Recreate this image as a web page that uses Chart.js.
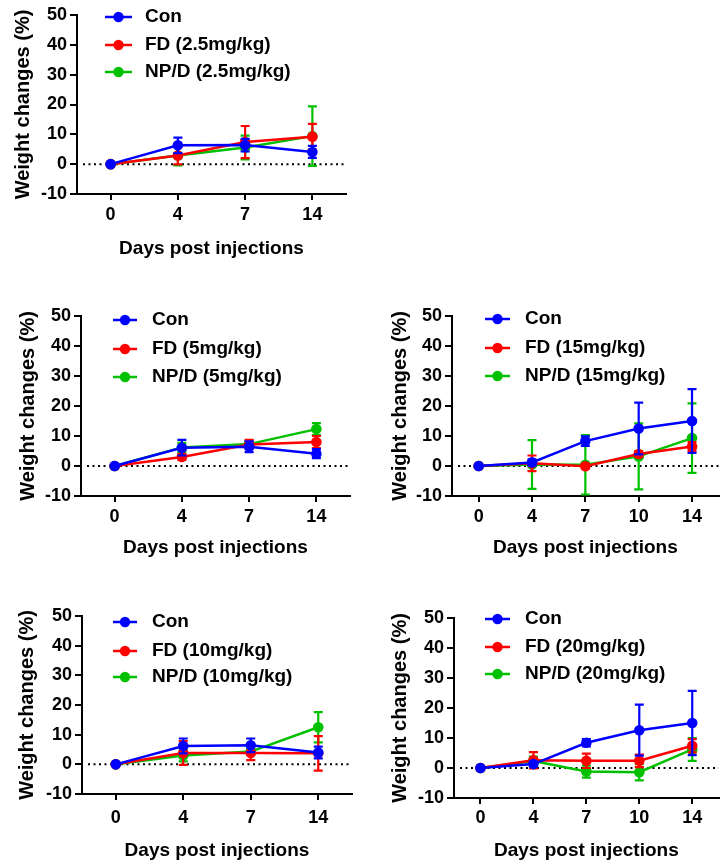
<!DOCTYPE html>
<html>
<head>
<meta charset="utf-8">
<script src="https://cdn.jsdelivr.net/npm/chart.js@4.4.1/dist/chart.umd.min.js"></script>
<style>
  body { margin: 0; background: #fff; width: 724px; height: 867px; position: relative; overflow: hidden; }
  canvas { position: absolute; }
</style>
</head>
<body>
<canvas id="p25"></canvas>
<canvas id="p5"></canvas>
<canvas id="p15"></canvas>
<canvas id="p10"></canvas>
<canvas id="p20"></canvas>
<script>
// x categories (days)
const days4 = ['0', '4', '7', '14'];
const days5 = ['0', '4', '7', '10', '14'];

// 2.5 mg/kg
const con25 = [0, 6.3, 6.4, 4.1];
const con25Err = [0, 2.6, 2.1, 2.0];
const fd25 = [0, 2.9, 7.4, 9.2];
const fd25Err = [0, 3.0, 5.4, 4.3];
const np25 = [0, 2.9, 5.6, 9.4];
const np25Err = [0, 3.3, 4.0, 10.0];

// 5 mg/kg
const con5 = [0, 6.1, 6.4, 4.1];
const con5Err = [0, 2.6, 1.8, 1.5];
const fd5 = [0, 3.0, 7.2, 8.0];
const fd5Err = [0, 1.0, 1.5, 2.0];
const np5 = [0, 6.2, 7.3, 12.3];
const np5Err = [0, 1.5, 1.2, 2.0];

// 15 mg/kg
const con15 = [0, 1.2, 8.3, 12.5, 15.0];
const con15Err = [0, 1.0, 1.6, 8.6, 10.6];
const fd15 = [0, 0.9, -0.1, 4.0, 6.5];
const fd15Err = [0, 2.6, 0.8, 1.0, 1.5];
const np15 = [0, 0.5, 0.4, 3.2, 9.3];
const np15Err = [0, 8.1, 9.9, 11.0, 11.6];

// 10 mg/kg
const con10 = [0, 6.2, 6.4, 4.0];
const con10Err = [0, 2.5, 2.3, 2.0];
const fd10 = [0, 3.8, 3.8, 3.7];
const fd10Err = [0, 4.0, 2.4, 5.8];
const np10 = [0, 3.0, 4.3, 12.5];
const np10Err = [0, 2.0, 1.0, 5.1];

// 20 mg/kg
const con20 = [0, 1.3, 8.4, 12.6, 15.0];
const con20Err = [0, 0.8, 1.2, 8.5, 10.7];
const fd20 = [0, 2.6, 2.4, 2.4, 7.4];
const fd20Err = [0, 2.7, 2.4, 2.1, 2.2];
const np20 = [0, 2.3, -1.2, -1.4, 6.2];
const np20Err = [0, 1.5, 2.0, 2.7, 3.8];

const yTicks = [-10, 0, 10, 20, 30, 40, 50];

const FONT = "'Liberation Sans', Arial, Helvetica, sans-serif";
const COLORS = ['#0000ff', '#ff0000', '#00c000'];

// zero line, error bars and the in-plot legend
const panelDecor = {
  id: 'panelDecor',
  beforeDatasetsDraw(chart) {
    const { ctx, chartArea, scales: { y } } = chart;
    const y0 = y.getPixelForValue(0);
    ctx.save();
    ctx.strokeStyle = '#000';
    ctx.lineWidth = 2;
    ctx.setLineDash([2, 3.5]);
    ctx.beginPath();
    ctx.moveTo(chartArea.left + 6, y0);
    ctx.lineTo(chartArea.right, y0);
    ctx.stroke();
    ctx.restore();
  },
  beforeDatasetDraw(chart, args) {
    const ds = chart.data.datasets[args.index];
    const { ctx, scales: { x, y } } = chart;
    ctx.save();
    ctx.strokeStyle = ds.borderColor;
    ctx.lineWidth = 2.2;
    ds.data.forEach((v, i) => {
      const e = ds.errors[i];
      if (!e) return;
      const px = x.getPixelForValue(i);
      const top = y.getPixelForValue(v + e);
      const bot = y.getPixelForValue(v - e);
      ctx.beginPath();
      ctx.moveTo(px, top); ctx.lineTo(px, bot);
      ctx.moveTo(px - 4.5, top); ctx.lineTo(px + 4.5, top);
      ctx.moveTo(px - 4.5, bot); ctx.lineTo(px + 4.5, bot);
      ctx.stroke();
    });
    ctx.restore();
  },
  afterDraw(chart, args, opts) {
    const { ctx, chartArea } = chart;
    const lg = opts.legend;
    ctx.save();
    chart.data.datasets.forEach((ds, i) => {
      const yy = chartArea.top + lg.rows[i];
      const x0 = chartArea.left + lg.x0, x1 = chartArea.left + lg.x1;
      ctx.strokeStyle = ds.borderColor;
      ctx.fillStyle = ds.borderColor;
      ctx.lineWidth = 2.5;
      ctx.beginPath(); ctx.moveTo(x0, yy); ctx.lineTo(x1, yy); ctx.stroke();
      ctx.beginPath(); ctx.arc((x0 + x1) / 2, yy, 5.2, 0, Math.PI * 2); ctx.fill();
      ctx.fillStyle = '#000';
      ctx.font = 'bold 19px ' + FONT;
      ctx.textBaseline = 'middle';
      ctx.fillText(ds.label, chartArea.left + lg.tx, yy);
    });
    ctx.restore();
  }
};

function makePanel(id, lay, labels, dose, series, legend) {
  const canvas = document.getElementById(id);
  const yScaleLeft = lay.yTitleX - (20 * 1.2 / 2 + 4);
  const bottom = Math.round(lay.xTitleY + 19 * 1.2 / 2 + 4);
  canvas.width = lay.cr - lay.cx;
  canvas.height = bottom - lay.cy;
  canvas.style.left = lay.cx + 'px';
  canvas.style.top = lay.cy + 'px';
  const xh = bottom - lay.B;
  const yw = lay.L - yScaleLeft;
  const tickPad = lay.xTickY - lay.B - 6 - 18 * 1.2 / 2;

  const names = ['Con', 'FD (' + dose + ')', 'NP/D (' + dose + ')'];
  const datasets = series.map((s, i) => ({
    label: names[i],
    data: s[0],
    errors: s[1],
    borderColor: COLORS[i],
    backgroundColor: COLORS[i],
    pointBackgroundColor: COLORS[i],
    pointBorderColor: COLORS[i],
    pointBorderWidth: 0,
    pointRadius: 5.3,
    borderWidth: 2.5,
    tension: 0,
    fill: false
  }));

  const axisCommon = {
    grid: { display: true, drawOnChartArea: false, drawTicks: true, color: '#000', lineWidth: 2 },
    border: { display: true, color: '#000', width: 2 }
  };

  return new Chart(canvas.getContext('2d'), {
    type: 'line',
    data: { labels: labels, datasets: datasets },
    plugins: [panelDecor],
    options: {
      responsive: false,
      animation: false,
      devicePixelRatio: 1,
      layout: { padding: { left: yScaleLeft - lay.cx, top: lay.T - lay.cy, right: lay.cr - lay.R, bottom: 0 } },
      plugins: {
        legend: { display: false },
        tooltip: { enabled: false },
        panelDecor: { legend: legend }
      },
      scales: {
        x: {
          type: 'category',
          offset: true,
          ...axisCommon,
          grid: { ...axisCommon.grid, tickLength: 6 },
          ticks: { color: '#000', font: { family: FONT, size: 18, weight: 'bold' }, padding: tickPad, maxRotation: 0, autoSkip: false },
          title: { display: true, text: 'Days post injections', color: '#000', font: { family: FONT, size: 19, weight: 'bold' }, padding: { top: 0, bottom: 4 } },
          afterFit: (s) => { s.height = xh; }
        },
        y: {
          min: yTicks[0],
          max: yTicks[yTicks.length - 1],
          ...axisCommon,
          grid: { ...axisCommon.grid, tickLength: 7 },
          afterBuildTicks: (s) => { s.ticks = yTicks.map(v => ({ value: v })); },
          ticks: { color: '#000', font: { family: FONT, size: 18, weight: 'bold' }, padding: 3 },
          title: { display: true, text: 'Weight changes (%)', color: '#000', font: { family: FONT, size: 20, weight: 'bold' }, padding: { top: 4, bottom: 0 } },
          afterFit: (s) => { s.width = yw; }
        }
      }
    }
  });
}

makePanel('p25',
  { cx: 0, cy: 0, cr: 362, L: 77, T: 15, R: 346, B: 194, yTitleX: 23, xTickY: 215, xTitleY: 249 },
  days4, '2.5mg/kg',
  [[con25, con25Err], [fd25, fd25Err], [np25, np25Err]],
  { x0: 28, x1: 55, tx: 68, rows: [2, 30, 57] });

makePanel('p5',
  { cx: 0, cy: 290, cr: 362, L: 81, T: 316, R: 350, B: 496, yTitleX: 28, xTickY: 517, xTitleY: 548 },
  days4, '5mg/kg',
  [[con5, con5Err], [fd5, fd5Err], [np5, np5Err]],
  { x0: 32, x1: 56, tx: 71, rows: [4, 33, 61] });

makePanel('p15',
  { cx: 362, cy: 290, cr: 724, L: 452, T: 316, R: 722, B: 496, yTitleX: 400, xTickY: 517, xTitleY: 548 },
  days5, '15mg/kg',
  [[con15, con15Err], [fd15, fd15Err], [np15, np15Err]],
  { x0: 33, x1: 58, tx: 73, rows: [3, 32, 60] });

makePanel('p10',
  { cx: 0, cy: 590, cr: 362, L: 82, T: 616, R: 352, B: 794, yTitleX: 27, xTickY: 818, xTitleY: 851 },
  days4, '10mg/kg',
  [[con10, con10Err], [fd10, fd10Err], [np10, np10Err]],
  { x0: 31, x1: 55, tx: 70, rows: [6, 35, 61] });

makePanel('p20',
  { cx: 362, cy: 590, cr: 724, L: 454, T: 618, R: 722, B: 798, yTitleX: 400, xTickY: 818, xTitleY: 851 },
  days5, '20mg/kg',
  [[con20, con20Err], [fd20, fd20Err], [np20, np20Err]],
  { x0: 31, x1: 56, tx: 71, rows: [1, 29, 56] });
</script>
</body>
</html>
